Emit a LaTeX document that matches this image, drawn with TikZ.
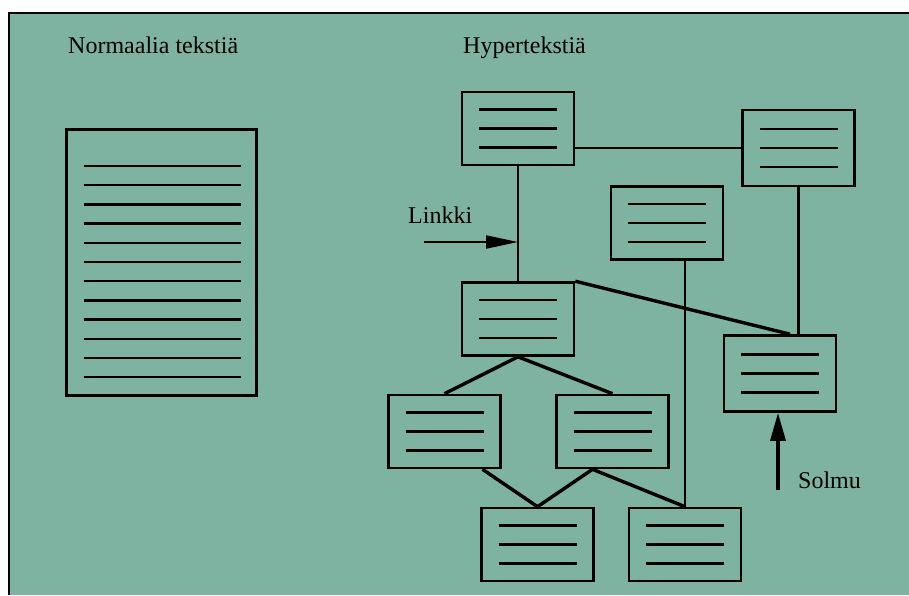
\documentclass[tikz,border=0pt]{standalone}
\usepackage{fontspec}
\setmainfont{Liberation Serif}
\usepackage{tikz}
\usetikzlibrary{arrows.meta}
\definecolor{tausta}{RGB}{126,178,161}
\tikzstyle{solmu} = [rectangle, minimum width=112pt, minimum height=73pt, inner sep=0pt, draw=black, line width=2.6pt,
  path picture={\foreach \dy in {19,0,-19} {\draw[line width=2.2pt] ([xshift=17pt,yshift=\dy pt]path picture bounding box.west) -- ([xshift=-17pt,yshift=\dy pt]path picture bounding box.east);}}]
\tikzstyle{dokumentti} = [rectangle, minimum width=190pt, minimum height=266pt, inner sep=0pt, draw=black, line width=2.6pt,
  path picture={\foreach \i in {0,...,11} {\draw[line width=2.4pt] ([xshift=17pt,yshift=-36.5pt-19.2pt*\i]path picture bounding box.north west) -- ++(157pt,0pt);}}]
\tikzstyle{otsikko} = [font=\fontsize{24}{28}\selectfont, inner sep=0pt, anchor=base west]
\tikzstyle{yhteys} = [line width=2.2pt]
\tikzstyle{paksu} = [line width=3.4pt]
\begin{document}
\begin{tikzpicture}[x=1pt, y=-1pt]
\useasboundingbox (0,0) rectangle (909,595);
% tausta ja kehys
\fill[tausta] (9,13) rectangle (909,595);
\draw[line width=1.4pt] (909,13) -- (8,13);
\draw[line width=2.6pt] (9,12.5) -- (9,595);
% otsikot
\node (normaali) [otsikko] at (68,53) {Normaalia tekstiä};
\node (hyper) [otsikko] at (463,53) {Hypertekstiä};
% tavallinen teksti
\node (doku) [dokumentti] at (161.5,262.5) {};
% hyperteksti
\node (a) [solmu] at (518,128.5) {};
\node (b) [solmu] at (518,319) {};
\node (c) [solmu, minimum height=76pt] at (798.5,148) {};
\node (d) [solmu] at (667,223) {};
\node (e) [solmu, minimum height=76pt] at (780,373.5) {};
\node (f1) [solmu] at (444.5,431.5) {};
\node (f2) [solmu] at (612.5,431.5) {};
\node (g1) [solmu] at (537.5,544.5) {};
\node (g2) [solmu] at (685,544.5) {};
\node (linkki) [otsikko] at (408,223) {Linkki};
\node (solmuteksti) [otsikko] at (798,488) {Solmu};
\coordinate (lk) at (424,242);
\coordinate (sm) at (778,490);
% linkit
\draw[yhteys] (a.south) -- (b.north);
\draw[yhteys] (c.west) -- (c.west -| a.east);
\draw[yhteys] (c.south) -- (c.south |- e.north);
\draw[yhteys] (g2.north) -- (g2.north |- d.south);
\draw[paksu] (b.north east) -- ([xshift=10pt]e.north);
\draw[paksu] (b.south) -- (f1.north);
\draw[paksu] (b.south) -- (f2.north);
\draw[paksu] ([xshift=38pt]f1.south) -- (g1.north);
\draw[paksu] ([xshift=-20pt]f2.south) -- (g1.north);
\draw[paksu] ([xshift=-20pt]f2.south) -- (g2.north);
% nuolet
\draw[line width=2pt, -{Triangle[length=32pt, width=13pt]}] (lk) -- (lk -| a.south);
\draw[line width=3.4pt, -{Triangle[length=28pt, width=15pt]}] (sm) -- (sm |- e.south);
\end{tikzpicture}
\end{document}
